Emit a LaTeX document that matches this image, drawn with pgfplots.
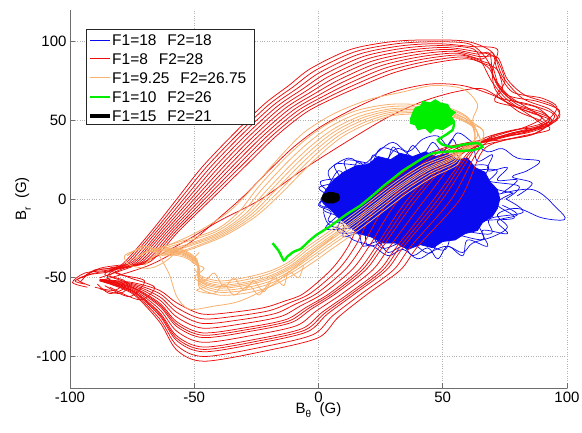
\documentclass[border=0pt]{standalone}
\usepackage{fontspec}
\setmainfont{Liberation Sans}
\usepackage{pgfplots}
\pgfplotsset{compat=1.18}
\definecolor{myblue}{RGB}{10,10,238}
\definecolor{myred}{RGB}{236,12,12}
\definecolor{myorange}{RGB}{248,176,110}
\definecolor{mygreen}{RGB}{0,238,0}
\definecolor{axgray}{RGB}{110,110,110}
\begin{document}
\begin{tikzpicture}
\useasboundingbox (-70pt,-44pt) rectangle (512pt,388pt);
\begin{axis}[
  at={(0pt,0pt)}, anchor=south west,
  width=497pt, height=378pt, scale only axis,
  xmin=-100, xmax=100, ymin=-120, ymax=120,
  xtick={-100,-50,0,50,100}, ytick={-100,-50,0,50,100},
  axis x line*=bottom, axis y line*=left,
  axis line style={axgray, line width=0.6pt},
  tick align=inside, major tick length=5pt, tick style={axgray, line width=0.6pt},
  grid=major, major grid style={dotted, gray!60, line width=0.6pt},
  /pgf/number format/assume math mode=true,
  tick label style={font=\fontsize{15}{18}\selectfont, black},
  xlabel={B\raisebox{-0.6ex}{\fontsize{10}{10}\selectfont θ}\ \ (G)},
  ylabel={B\raisebox{-0.6ex}{\fontsize{10}{10}\selectfont r}\ \ (G)},
  label style={font=\fontsize{15}{18}\selectfont},
  xlabel style={at={(axis description cs:0.5,-0.037)}, anchor=north, inner sep=0pt},
  ylabel style={at={(axis description cs:-0.0785,0.5)}, anchor=south, inner sep=0pt},
  every axis plot/.append style={forget plot},
]
\pgfplotsset{
  blueline/.style={myblue, line width=0.7pt, smooth, tension=0.6},
  redline/.style={myred, line width=0.75pt, smooth, tension=0.5},
  orline/.style={myorange, line width=0.8pt, smooth, tension=0.5}}
% ---------------- blue ----------------
\addplot[fill=myblue, draw=myblue, line width=0.7pt] coordinates {
(1,0) (3,6) (6,12) (10,17) (15,21) (20,22) (24,27) (29,25) (33,29) (38,27) (43,30) (47,27) (52,29) (56,25) (60,26) (63,20) (67,17) (69,11) (72,6) (73,0) (72,-6) (70,-11) (66,-15) (64,-20) (59,-22) (55,-26) (50,-27) (46,-31) (41,-29) (36,-32) (31,-28) (26,-28) (21,-24) (16,-22) (12,-17) (8,-12) (5,-7) (2,-3)} -- cycle;
\addplot[blueline] coordinates {
(75.4,0) (80.7,8.1) (67.4,12) (68,21.2) (55.9,21.8) (49.9,31.3) (38,26.4) (25.7,32.5) (20.2,21.8) (6.8,22.1) (8.6,12) (0.2,7.1) (5.7,0) (1.9,-6.8) (8.6,-12) (8,-21.2) (20.2,-21.8) (26.1,-31.3) (38,-25.2) (50.3,-32.5) (55,-20.8) (69.3,-22.1) (68.9,-12.6) (82.3,-8.4) (75.4,0)};
\addplot[blueline] coordinates {
(78.4,3.8) (67.8,8.7) (71.7,18.3) (58.7,19) (54.9,28.8) (42.2,22.6) (32,32.1) (25,22.2) (11.1,24.7) (11,14.6) (0.8,11) (4.3,3.1) (0.5,-3.6) (8.2,-8.7) (3,-19) (17.3,-19) (20.4,-29.9) (33.5,-23.8) (44.5,-34.5) (51,-22.2) (66,-25.7) (65,-14.6) (78.8,-12) (71.7,-3.1) (78.4,3.8)};
\addplot[blueline] coordinates {
(70,2) (86,6) (96,-6) (99,-13) (90,-12) (80,-6) (72,-10) (76,-18) (70,-24) (62,-28) (58,-34) (52,-30) (46,-33) (40,-38) (34,-32) (28,-36) (22,-30) (14,-26) (10,-20) (4,-16) (2,-8)};
\addplot[blueline] coordinates {
(6,10) (4,18) (12,26) (18,22) (24,30) (30,36) (36,30) (42,38) (48,40) (52,34) (56,42) (62,36) (68,30) (74,32) (80,26) (89,24) (84,18) (78,14) (86,10) (80,2)};
\addplot[blueline] coordinates {
(4,8) (8,18) (12,14) (16,24) (20,18) (22,28) (27,22) (30,33) (34,26) (38,34) (42,28) (46,36) (50,30) (54,38) (57,30) (62,34) (64,24) (70,28) (68,18) (76,20) (72,12) (80,12) (74,4)};
\addplot[blueline] coordinates {
(74,-4) (80,-10) (72,-14) (76,-22) (66,-20) (68,-30) (60,-26) (58,-36) (52,-30) (48,-38) (44,-31) (38,-36) (34,-30) (28,-34) (24,-27) (18,-30) (16,-22) (10,-24) (10,-16) (4,-14) (5,-8) (0,-4) (3,2)};
% ---------------- red ----------------
\addplot[redline] coordinates {
(-94,-54) (-98,-52) (-92,-48) (-84,-46)
(-78,-40) (-67,-20) (-57,0) (-47,20) (-35,40) (-22,60) (-12,72) (-3,83) (13,95) (30,100) (45,101) (60,100)
(70,93) (74,78) (82,64) (93,57) (96,50) (86,44) (74,40)
(56.5,29.5) (39.5,0) (26,-30) (19,-45) (7,-60) (-3,-70) (-11,-78.5) (-27.5,-84) (-46.5,-88) (-57,-81) (-64,-68) (-75,-56.5) (-88,-51.5)};
\addplot[redline] coordinates {
(-90,-56) (-82,-58) (-78,-52) (-86,-48) (-82,-44)
(-77,-40) (-65.9,-20) (-55.6,0) (-45.3,20) (-33.2,40) (-20.3,59.5) (-10.2,71.2) (-1.1,81.8) (14.7,93.5) (31.5,98.6) (46.5,99.8) (60.8,98.4)
(68,88) (72,72) (80,60) (90,55) (94,48) (84,42) (70,38)
(63.3,28.3) (53.5,0) (37.2,-30) (30.2,-45) (17.4,-60) (5.8,-74) (-2.2,-86.1) (-21.5,-93.6) (-46.1,-100) (-57,-93) (-64,-76) (-75,-59.3) (-88,-51.9)};
\addplot[redline] coordinates {
(-95,-50) (-90,-45) (-82,-44)
(-76,-40) (-64.8,-20) (-54.2,0) (-43.6,20) (-31.4,40) (-18.6,59) (-8.4,70.4) (0.8,80.6) (16.4,92) (33,97.2) (48,98.6) (61.6,96.8)
(72,95) (70,80) (76,66) (88,62) (97,56) (92,46) (78,42) (66,36)
(51.4,30.4) (29,0) (17.6,-30) (10.6,-45) (-0.8,-60) (-9.6,-67) (-17.6,-72.8) (-32,-76.8) (-46.8,-79) (-57,-72) (-64,-62) (-75,-54.4) (-88,-51.2)};
\addplot[redline] coordinates {
(-86,-55) (-76,-62) (-70,-52) (-80,-48) (-84,-44)
(-75,-40) (-63.7,-20) (-52.8,0) (-41.9,20) (-29.6,40) (-16.9,58.5) (-6.6,69.6) (2.7,79.4) (18.1,90.5) (34.5,95.8) (49.5,97.4) (62.4,95.2)
(66,86) (70,74) (76,63) (86,52) (90,46) (80,44) (68,38)
(59.9,28.9) (46.5,0) (31.6,-30) (24.6,-45) (12.2,-60) (1.4,-72) (-6.6,-82.3) (-24.5,-88.8) (-46.3,-94) (-57,-87) (-64,-72) (-75,-57.9) (-88,-51.7)};
\addplot[redline] coordinates {
(-92,-55) (-97,-51) (-90,-47) (-82,-45)
(-74,-40) (-62.6,-20) (-51.4,0) (-40.2,20) (-27.8,40) (-15.2,58) (-4.8,68.8) (4.6,78.2) (19.8,89) (36,94.4) (51,96.2) (63.2,93.6)
(71,90) (75,75) (72,65) (85,60) (95,53) (88,42) (76,38)
(48,31) (22,0) (12,-30) (5,-45) (-6,-60) (-14,-65) (-22,-69) (-35,-72) (-47,-73) (-57,-66) (-64,-58) (-75,-53) (-88,-51)};
\addplot[redline] coordinates {
(-88,-57) (-80,-60) (-76,-54) (-84,-49) (-80,-45)
(-73,-40) (-61.5,-20) (-50,0) (-38.5,20) (-26,40) (-13.5,57.5) (-3,68) (6.5,77) (21.5,87.5) (37.5,93) (52.5,95) (64,92)
(69,92) (71,70) (80,56) (89,50) (93,44) (82,40) (70,35)
(65,28) (57,0) (40,-30) (33,-45) (20,-60) (8,-75) (0,-88) (-20,-96) (-46,-103) (-57,-96) (-64,-78) (-75,-60) (-88,-52)};
\addplot[redline] coordinates {
(-96,-53) (-91,-46) (-80,-43)
(-72,-40) (-60.4,-20) (-48.6,0) (-36.8,20) (-24.2,40) (-11.8,57) (-1.2,67.2) (8.4,75.8) (23.2,86) (39,91.6) (54,93.8) (64.8,90.4)
(72,90) (76,76) (83,66) (94,60) (97,52) (88,46) (76,41)
(54.8,29.8) (36,0) (23.2,-30) (16.2,-45) (4.4,-60) (-5.2,-69) (-13.2,-76.6) (-29,-81.6) (-46.6,-85) (-57,-78) (-64,-66) (-75,-55.8) (-88,-51.4)};
\addplot[redline] coordinates {
(-84,-56) (-72,-64) (-66,-56) (-76,-50) (-82,-45)
(-71,-40) (-59.3,-20) (-47.2,0) (-35.1,20) (-22.4,40) (-10.1,56.5) (0.6,66.4) (10.3,74.6) (24.9,84.5) (40.5,90.2) (55.5,92.6) (65.6,88.8)
(70,93) (72,82) (78,68) (90,64) (96,58) (90,48) (76,43) (66,38)
(61.6,28.6) (50,0) (34.4,-30) (27.4,-45) (14.8,-60) (3.6,-73) (-4.4,-84.2) (-23,-91.2) (-46.2,-97) (-57,-90) (-64,-74) (-75,-58.6) (-88,-51.8)};
\addplot[redline] coordinates {
(-93,-56) (-99,-53) (-94,-47) (-84,-45)
(-70,-40) (-58.2,-20) (-45.8,0) (-33.4,20) (-20.6,40) (-8.4,56) (2.4,65.6) (12.2,73.4) (26.6,83) (42,88.8) (57,91.4) (66.4,87.2)
(70,84) (73,70) (79,62) (88,58) (93,50) (85,43) (72,39)
(49.7,30.7) (25.5,0) (14.8,-30) (7.8,-45) (-3.4,-60) (-11.8,-66) (-19.8,-70.9) (-33.5,-74.4) (-46.9,-76) (-57,-69) (-64,-60) (-75,-53.7) (-88,-51.1)};
\addplot[redline] coordinates {
(-89,-54) (-84,-60) (-78,-56) (-85,-50) (-81,-44)
(-69,-40) (-57.1,-20) (-44.4,0) (-31.7,20) (-18.8,40) (-6.7,55.5) (4.2,64.8) (14.1,72.2) (28.3,81.5) (43.5,87.4) (58.5,90.2) (67.2,85.6)
(72,82) (74,70) (71,62) (84,57) (94,50) (86,41) (74,37)
(58.2,29.2) (43,0) (28.8,-30) (21.8,-45) (9.6,-60) (-0.8,-71) (-8.8,-80.4) (-26,-86.4) (-46.4,-91) (-57,-84) (-64,-70) (-75,-57.2) (-88,-51.6)};
\addplot[redline] coordinates {
(-94,-49) (-88,-44) (-80,-42)
(-68,-40) (-56,-20) (-43,0) (-30,20) (-17,40) (-5,55) (6,64) (16,71) (30,80) (45,86) (60,89) (68,84)
(71,76) (77,65) (87,55) (92,47) (82,43) (69,37)
(53.1,30.1) (32.5,0) (20.4,-30) (13.4,-45) (1.8,-60) (-7.4,-68) (-15.4,-74.7) (-30.5,-79.2) (-46.7,-82) (-57,-75) (-64,-64) (-75,-55.1) (-88,-51.3)};
\addplot[redline] coordinates {
(-88,-50) (-70,-40) (-55,-28) (-40,-14) (-23,0) (-5,20) (13,38) (28,52) (42,62) (55,68) (66,70) (75,62) (85,55) (93,50) (84,43) (72,38)
(55.65,29.65) (37.75,0) (24.6,-30) (17.6,-45) (5.7,-60) (-4.1,-69.5) (-12.1,-77.55) (-28.25,-82.8) (-46.55,-86.5) (-57,-79.5) (-64,-67) (-75,-56.15) (-88,-51.45)};
\addplot[redline] coordinates {
(-88,-52) (-68,-42) (-52,-28) (-40,-12) (-30,2) (-20,18) (-10,33) (1,46) (15,58) (30,68) (45,73) (58,72) (70,66) (80,58) (90,52) (82,45) (70,40)
(60.75,28.75) (48.25,0) (33,-30) (26,-45) (13.5,-60) (2.5,-72.5) (-5.5,-83.25) (-23.75,-90) (-46.25,-95.5) (-57,-88.5) (-64,-73) (-75,-58.25) (-88,-51.75)};
% ---------------- orange ----------------
\addplot[orline] coordinates {
(-74,-38) (-68,-33)
(-62,-30) (-42,-20) (-32,-8) (-24,8) (-14,25) (-5,38) (4,48) (15,56) (28,60) (40,60) (52,58) (60,52)
(64,42) (65,36) (60,32)
(54,25) (44,18) (34,8) (24,-4) (14,-16) (4.5,-26.5) (-3.5,-35.5) (-11,-44) (-20,-51) (-30,-55) (-40,-56.5) (-48,-52) (-48.5,-41) (-54.5,-34.5) (-62,-33)};
\addplot[orline] coordinates {
(-70,-42) (-66,-36)
(-61.6,-31.2) (-41.6,-21) (-30.8,-8.8) (-22.4,6.8) (-12.4,23.6) (-3.6,36.4) (5.2,46.4) (16,54.4) (28.4,58.6) (40.4,58.8) (52.4,56.8) (60.4,50.8)
(63,40) (62,35) (58,31)
(56,22) (46,14) (36,4) (26,-8) (16,-20) (6,-31) (-2,-40) (-10,-48) (-20,-56) (-30,-60) (-40,-61) (-48,-56) (-48,-44) (-54,-37) (-62,-35)};
\addplot[orline] coordinates {
(-77,-36) (-70,-30)
(-61.2,-32.4) (-41.2,-22) (-29.6,-9.6) (-20.8,5.6) (-10.8,22.2) (-2.2,34.8) (6.4,44.8) (17,52.8) (28.8,57.2) (40.8,57.6) (52.8,55.6) (60.8,49.6)
(66,44) (66,38) (61,33)
(52.6,27.1) (42.6,20.8) (32.6,10.8) (22.6,-1.2) (12.6,-13.2) (3.45,-23.35) (-4.55,-32.35) (-11.7,-41.2) (-20,-47.5) (-30,-51.5) (-40,-53.35) (-48,-49.2) (-48.85,-38.9) (-54.85,-32.75) (-62,-31.6)};
\addplot[orline] coordinates {
(-74,-38) (-68,-33)
(-60.9,-33.3) (-40.9,-22.75) (-28.7,-10.2) (-19.6,4.7) (-9.6,21.15) (-1.15,33.6) (7.3,43.6) (17.75,51.6) (29.1,56.15) (41.1,56.7) (53.1,54.7) (61.1,48.7)
(63,40) (62,35) (58,31)
(55.2,23.2) (45.2,15.6) (35.2,5.6) (25.2,-6.4) (15.2,-18.4) (5.4,-29.2) (-2.6,-38.2) (-10.4,-46.4) (-20,-54) (-30,-58) (-40,-59.2) (-48,-54.4) (-48.2,-42.8) (-54.2,-36) (-62,-34.2)};
\addplot[orline] coordinates {
(-70,-42) (-66,-36)
(-60.6,-34.2) (-40.6,-23.5) (-27.8,-10.8) (-18.4,3.8) (-8.4,20.1) (-0.1,32.4) (8.2,42.4) (18.5,50.4) (29.4,55.1) (41.4,55.8) (53.4,53.8) (61.4,47.8)
(66,44) (66,38) (61,33)
(53.2,26.2) (43.2,19.6) (33.2,9.6) (23.2,-2.4) (13.2,-14.4) (3.9,-24.7) (-4.1,-33.7) (-11.4,-42.4) (-20,-49) (-30,-53) (-40,-54.7) (-48,-50.4) (-48.7,-39.8) (-54.7,-33.5) (-62,-32.2)};
\addplot[orline] coordinates {
(-77,-36) (-70,-30)
(-60.3,-35.1) (-40.3,-24.25) (-26.9,-11.4) (-17.2,2.9) (-7.2,19.05) (0.95,31.2) (9.1,41.2) (19.25,49.2) (29.7,54.05) (41.7,54.9) (53.7,52.9) (61.7,46.9)
(64,42) (65,36) (60,32)
(52,28) (42,22) (32,12) (22,0) (12,-12) (3,-22) (-5,-31) (-12,-40) (-20,-46) (-30,-50) (-40,-52) (-48,-48) (-49,-38) (-55,-32) (-62,-31)};
\addplot[orline] coordinates {
(-74,-38) (-68,-33)
(-60,-36) (-40,-25) (-26,-12) (-16,2) (-6,18) (2,30) (10,40) (20,48) (30,53) (42,54) (54,52) (62,46)
(63,40) (62,35) (58,31)
(54.6,24.1) (44.6,16.8) (34.6,6.8) (24.6,-5.2) (14.6,-17.2) (4.95,-27.85) (-3.05,-36.85) (-10.7,-45.2) (-20,-52.5) (-30,-56.5) (-40,-57.85) (-48,-53.2) (-48.35,-41.9) (-54.35,-35.25) (-62,-33.6)};
\addplot[orline] coordinates {
(-66,-33) (-50,-22) (-36,-8) (-26,8) (-16,26) (-6,42) (6,54) (20,63) (34,68) (46,72) (58,70) (64,60) (62,50) (64,40) (58,32)
(53.6,25.6) (43.6,18.8) (33.6,8.8) (23.6,-3.2) (13.6,-15.2) (4.2,-25.6) (-3.8,-34.6) (-11.2,-43.2) (-20,-50) (-30,-54) (-40,-55.6) (-48,-51.2) (-48.6,-40.4) (-54.6,-34) (-62,-32.6)};
\addplot[orline] coordinates {
(-64,-36) (-60,-48) (-57,-62) (-52,-70) (-42,-68) (-32,-65) (-20,-56) (-10,-44) (-2,-34) (6,-24)};
\addplot[orline] coordinates {
(-50,-44) (-46,-52) (-42,-47) (-38,-56) (-34,-50) (-30,-58) (-26,-52) (-22,-59) (-18,-50) (-14,-55) (-12,-46) (-8,-50) (-6,-42)};
\addplot[orline] coordinates {
(-48,-34) (-51,-40) (-46,-44) (-50,-50) (-45,-55) (-49,-58) (-42,-60) (-38,-54) (-34,-61) (-28,-55) (-24,-61) (-20,-53)};
\addplot[orline] coordinates {
(-64,-32) (-72,-32) (-78,-36) (-76,-42) (-68,-44) (-62,-40) (-58,-34) (-62,-30)};
% ---------------- green ----------------
\addplot[mygreen, line width=2.4pt, smooth, tension=0.3] coordinates {
(-18.5,-28) (-16,-33) (-14,-39) (-12.5,-36.5) (-10,-33.5) (-7,-31.5) (-4,-27) (-1,-23) (2,-20) (5,-17) (8,-13.5) (12,-9) (17,-4) (22,2.5) (26,8) (30,13) (34,18) (38,22) (42,26) (46,29) (51,30) (57,30.5) (62,31) (66,33) (64,35.5) (58,34.5) (54,33) (50,34.5) (48,37.5) (51,40.5) (54,44) (54.5,49) (52,54) (48,55)};
\addplot[fill=mygreen, draw=mygreen, line width=1pt] coordinates {
(37,51) (38,55) (39,58) (41,59) (42,62) (45,61) (47,63) (49,61) (52,60) (53,57) (55,55) (53,52) (54,48) (52,46) (50,44) (47,45) (45,42) (43,45) (40,44) (39,47) (37,48)} -- cycle;
% ---------------- black ----------------
\addplot[fill=black, draw=black, line width=1pt] coordinates {
(1.5,1) (2,3) (4,4) (6,4) (8,3) (8.5,1) (8,-1) (6,-2.5) (3.5,-2.5) (1.8,-1)} -- cycle;
% ---------------- legend (box, samples, entries) ----------------
\draw[black!85, line width=0.6pt, fill=white] (axis cs:-93.56,107.94) rectangle (axis cs:-25.96,47.62);
\draw[myblue, line width=1pt] (axis cs:-92,100.95) -- (axis cs:-84,100.95);
\draw[myred, line width=1pt] (axis cs:-92,88.89) -- (axis cs:-84,88.89);
\draw[myorange, line width=1pt] (axis cs:-92,76.83) -- (axis cs:-84,76.83);
\draw[mygreen, line width=2.4pt] (axis cs:-92,64.76) -- (axis cs:-84,64.76);
\draw[black, line width=4.5pt] (axis cs:-92,52.7) -- (axis cs:-84,52.7);
\begin{scope}[every node/.style={anchor=west, inner sep=0pt, font=\fontsize{15.5}{18}\selectfont}]
\node at (axis cs:-83.1,100.95) {F1=18\hspace{0.7em}F2=18};
\node at (axis cs:-83.1,88.89) {F1=8\hspace{0.7em}F2=28};
\node at (axis cs:-83.1,76.83) {F1=9.25\hspace{0.7em}F2=26.75};
\node at (axis cs:-83.1,64.76) {F1=10\hspace{0.7em}F2=26};
\node at (axis cs:-83.1,52.7) {F1=15\hspace{0.7em}F2=21};
\end{scope}
\end{axis}
\end{tikzpicture}
\end{document}
